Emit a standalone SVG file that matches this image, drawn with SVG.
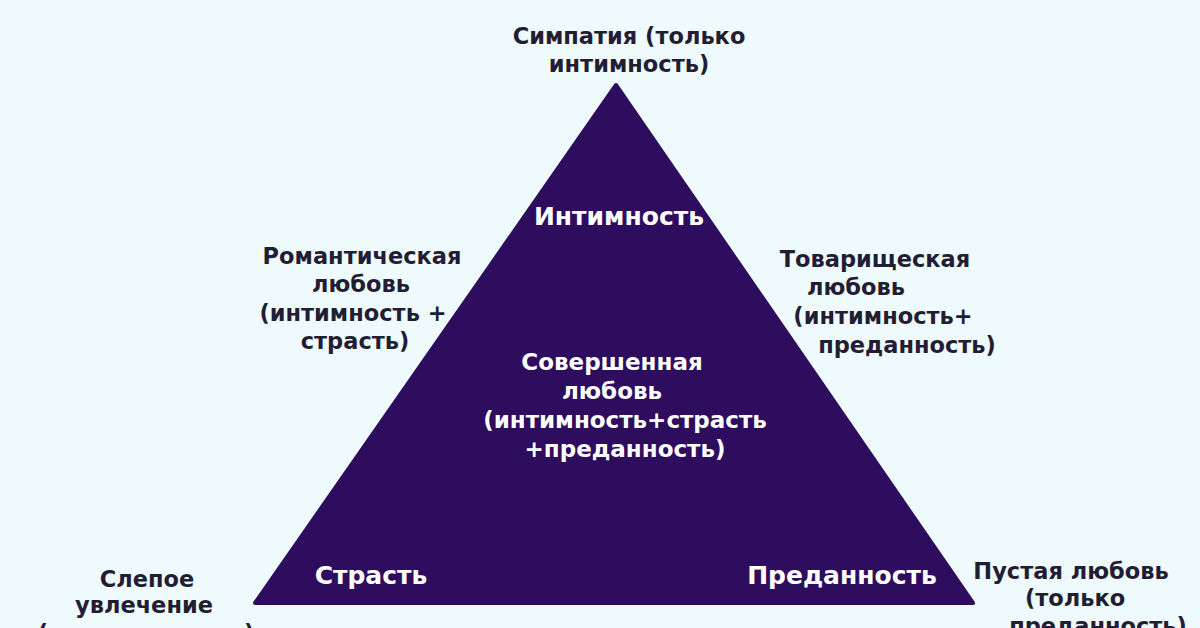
<svg xmlns="http://www.w3.org/2000/svg" width="1200" height="628" viewBox="0 0 1200 628">
<style>
.lbl{font-family:"DejaVu Sans","Liberation Sans",sans-serif;font-weight:700;font-size:22.5px;fill:#231d33}
.in{font-family:"DejaVu Sans","Liberation Sans",sans-serif;font-weight:700;font-size:23px;fill:#ffffff}
.big{font-size:25px}
.c{text-anchor:middle}
</style>
<rect width="1200" height="628" fill="#eefafc"/>
<g id="triangle">
<path d="M616 85 L973 603 L255 603 Z" fill="#2e0d5e" stroke="#2e0d5e" stroke-width="4" stroke-linejoin="round"/>
</g>
<g id="intimacy">
<text class="in big c" x="619" y="225">Интимность</text>
</g>
<g id="passion">
<text class="in big c" x="371" y="584">Страсть</text>
</g>
<g id="commitment">
<text class="in big c" x="842" y="584">Преданность</text>
</g>
<g id="consummate">
<text class="in c" x="612" y="370">Совершенная</text>
<text class="in c" x="612" y="399">любовь</text>
<text class="in c" x="625" y="428">(интимность+страсть</text>
<text class="in c" x="625" y="457">+преданность)</text>
</g>
<g id="liking">
<text class="lbl c" x="629" y="44">Симпатия (только</text>
<text class="lbl c" x="629" y="72">интимность)</text>
</g>
<g id="romantic">
<text class="lbl c" x="362" y="264">Романтическая</text>
<text class="lbl c" x="361" y="292">любовь</text>
<text class="lbl c" x="353" y="321">(интимность +</text>
<text class="lbl c" x="355" y="349">страсть)</text>
</g>
<g id="companionate">
<text class="lbl c" x="875" y="267">Товарищеская</text>
<text class="lbl c" x="856" y="295">любовь</text>
<text class="lbl c" x="883" y="324">(интимность+</text>
<text class="lbl c" x="907" y="353">преданность)</text>
</g>
<g id="infatuation">
<text class="lbl c" x="147" y="587">Слепое</text>
<text class="lbl c" x="144" y="613">увлечение</text>
<text class="lbl c" x="146" y="641">(только страсть)</text>
</g>
<g id="empty">
<text class="lbl c" x="1071" y="579">Пустая любовь</text>
<text class="lbl c" x="1075" y="606">(только</text>
<text class="lbl c" x="1098" y="634">преданность)</text>
</g>
<g id="connectors"></g>
</svg>
